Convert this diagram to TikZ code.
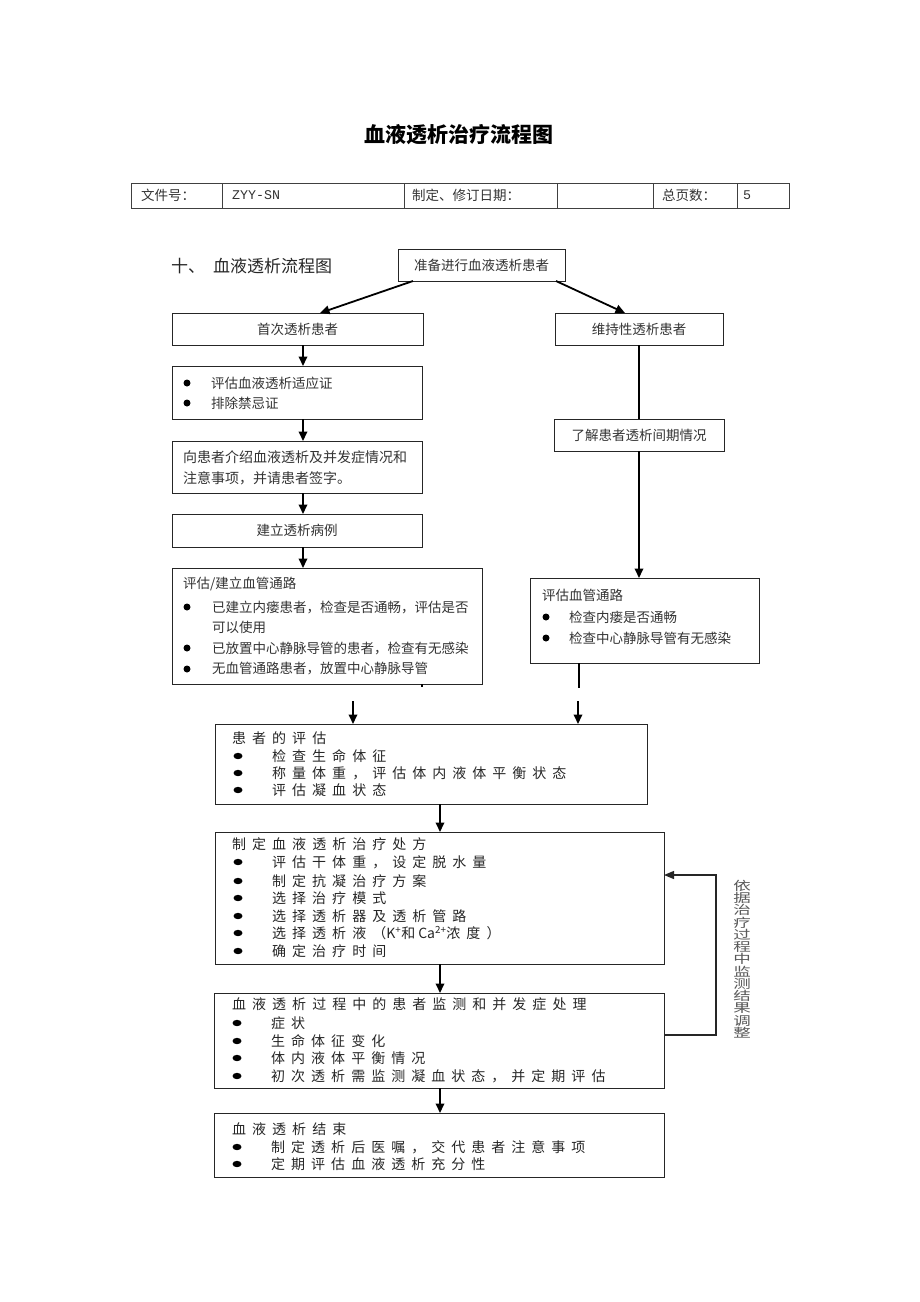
\documentclass[tikz,border=0pt]{standalone}
\usepackage{fontspec}
\setmainfont{Noto Sans CJK SC}
\newfontfamily\cjksp[LetterSpace=43]{Noto Sans CJK SC}
\newfontfamily\plainf{Noto Sans CJK SC}
\newfontfamily\mono{Liberation Mono}
\usetikzlibrary{arrows.meta,calc}
\begin{document}
\begin{tikzpicture}[x=1pt,y=-1pt,
  box/.style={draw=black!85,line width=0.9pt,rectangle,inner sep=0pt,outer sep=0pt,anchor=north west},
  cell/.style={draw=black!75,line width=0.9pt,rectangle,inner sep=0pt,outer sep=0pt,anchor=north west,minimum height=25pt},
  txt/.style={anchor=west,inner sep=0pt,font=\fontsize{13.5}{16}\selectfont,text=black!80},
  ctxt/.style={inner sep=0pt,font=\fontsize{13.5}{16}\selectfont,text=black!80},
  stxt/.style={anchor=west,inner sep=0pt,font=\cjksp\fontsize{14}{16}\selectfont,text=black!85},
  arr/.style={line width=1.8pt,-{Triangle[length=9.5pt,width=8.5pt]}},
  plain/.style={line width=1.8pt},
  fb/.style={line width=1.3pt,draw=black!85},
  dot/.style={fill=black},
]
\useasboundingbox[fill=white] (0,0) rectangle (920,1302);

% title
\node[font=\bfseries\fontsize{21}{24}\selectfont] (title) at (459,135) {血液透析治疗流程图};

% header table
\node[cell,minimum width=91pt]  (c1) at (131,183) {};
\node[cell,minimum width=182pt] (c2) at (222,183) {};
\node[cell,minimum width=153pt] (c3) at (404,183) {};
\node[cell,minimum width=96pt]  (c4) at (557,183) {};
\node[cell,minimum width=84pt]  (c5) at (653,183) {};
\node[cell,minimum width=52pt]  (c6) at (737,183) {};
\node[txt] (t1) at ($(c1.west)+(10,0)$) {文件号：};
\node[txt,font=\mono\fontsize{13.3}{16}\selectfont] (t2) at ($(c2.west)+(10,0)$) {ZYY-SN};
\node[txt] (t3) at ($(c3.west)+(8,0)$) {制定、修订日期：};
\node[txt] (t5) at ($(c5.west)+(9,0)$) {总页数：};
\node[txt,font=\mono\fontsize{13.3}{16}\selectfont] (t6) at ($(c6.west)+(6,0)$) {5};

% heading
\node[txt,font=\fontsize{17}{20}\selectfont,text=black!85] (head) at (171,266) {十、\hspace{8pt}血液透析流程图};

% top
\node[box,minimum width=167pt,minimum height=32pt] (A) at (398,249) {};
\node[ctxt] (At) at (A.center) {准备进行血液透析患者};
\node[box,minimum width=251pt,minimum height=32pt] (B) at (172,313) {};
\node[ctxt] (Bt) at (B.center) {首次透析患者};
\node[box,minimum width=168pt,minimum height=32pt] (C) at (555,313) {};
\node[ctxt] (Ct) at (C.center) {维持性透析患者};

% left column
\node[box,minimum width=250pt,minimum height=53pt] (D) at (172,366) {};
\fill[dot] (187,383) circle (3.5pt);
\fill[dot] (187,403) circle (3.5pt);
\node[txt] (D1) at (211,383) {评估血液透析适应证};
\node[txt] (D2) at (211,403) {排除禁忌证};

\node[box,minimum width=250pt,minimum height=52pt] (E) at (172,441) {};
\node[txt,font=\fontsize{14}{16}\selectfont] (E1) at (183,457) {向患者介绍血液透析及并发症情况和};
\node[txt,font=\fontsize{14}{16}\selectfont] (E2) at (183,478) {注意事项，并请患者签字。};

\node[box,minimum width=250pt,minimum height=33pt] (F) at (172,514) {};
\node[ctxt] (Ft) at (F.center) {建立透析病例};

\node[box,minimum width=310pt,minimum height=116pt] (G) at (172,568) {};
\node[txt] (G0) at (183,584) {评估/建立血管通路};
\fill[dot] (187,607) circle (3.5pt);
\fill[dot] (187,648) circle (3.5pt);
\fill[dot] (187,669) circle (3.5pt);
\node[txt] (G1) at (212,607) {已建立内瘘患者，检查是否通畅，评估是否};
\node[txt] (G2) at (212,627) {可以使用};
\node[txt] (G3) at (212,648) {已放置中心静脉导管的患者，检查有无感染};
\node[txt] (G4) at (212,669) {无血管通路患者，放置中心静脉导管};

% right column
\node[box,minimum width=170pt,minimum height=32pt] (H) at (554,419) {};
\node[ctxt] (Ht) at (H.center) {了解患者透析间期情况};

\node[box,minimum width=229pt,minimum height=85pt] (I) at (530,578) {};
\node[txt] (I0) at (542,595) {评估血管通路};
\fill[dot] (546,617) circle (3.5pt);
\fill[dot] (546,638) circle (3.5pt);
\node[txt] (I1) at (569,617) {检查内瘘是否通畅};
\node[txt] (I2) at (569,638) {检查中心静脉导管有无感染};

% lower boxes
\node[box,minimum width=432pt,minimum height=80pt] (J) at (215,724) {};
\node[stxt] (J0) at (232,738) {患者的评估};
\foreach \y in {756,773,790} \fill[dot] (238,\y) ellipse (4.5pt and 3.2pt);
\node[stxt] (J1) at (272,756) {检查生命体征};
\node[stxt] (J2) at (272,773) {称量体重，评估体内液体平衡状态};
\node[stxt] (J3) at (272,790) {评估凝血状态};

\node[box,minimum width=449pt,minimum height=132pt] (K) at (215,832) {};
\node[stxt] (K0) at (232,844) {制定血液透析治疗处方};
\foreach \y in {862,881,898,916,933,951} \fill[dot] (238,\y) ellipse (4.5pt and 3.2pt);
\node[stxt] (K1) at (272,862) {评估干体重，设定脱水量};
\node[stxt] (K2) at (272,881) {制定抗凝治疗方案};
\node[stxt] (K3) at (272,898) {选择治疗模式};
\node[stxt] (K4) at (272,916) {选择透析器及透析管路};
\node[stxt] (K5) at (272,933) {选择透析液（{\plainf K\textsuperscript{+}}和\hspace{3pt}{\plainf Ca\textsuperscript{2+}}浓度）};
\node[stxt] (K6) at (272,951) {确定治疗时间};

\node[box,minimum width=450pt,minimum height=95pt] (L) at (214,993) {};
\node[stxt] (L0) at (232,1004) {血液透析过程中的患者监测和并发症处理};
\foreach \y in {1023,1041,1058,1076} \fill[dot] (237,\y) ellipse (4.5pt and 3.2pt);
\node[stxt] (L1) at (271,1023) {症状};
\node[stxt] (L2) at (271,1041) {生命体征变化};
\node[stxt] (L3) at (271,1058) {体内液体平衡情况};
\node[stxt] (L4) at (271,1076) {初次透析需监测凝血状态，并定期评估};

\node[box,minimum width=450pt,minimum height=64pt] (M) at (214,1113) {};
\node[stxt] (M0) at (232,1129) {血液透析结束};
\foreach \y in {1147,1164} \fill[dot] (237,\y) ellipse (4.5pt and 3.2pt);
\node[stxt] (M1) at (271,1147) {制定透析后医嘱，交代患者注意事项};
\node[stxt] (M2) at (271,1164) {定期评估血液透析充分性};

% side note
\begin{scope}[shift={(742,959)},yscale=0.7]
\node[transform shape,align=center,inner sep=0pt,font=\fontsize{17.5}{17.5}\selectfont,text=black!65] (note) at (0,0)
  {依\\据\\治\\疗\\过\\程\\中\\监\\测\\结\\果\\调\\整};
\end{scope}

% connectors
\coordinate (lx) at (303,0);
\coordinate (rx) at (639,0);
\draw[arr] ($(A.south west)+(15,0)$) -- ($(B.north west)+(148,0)$);
\draw[arr] ($(A.south east)+(-9,0)$) -- ($(C.north west)+(70,0)$);
\draw[arr] (lx |- B.south) -- (lx |- D.north);
\draw[arr] (lx |- D.south) -- (lx |- E.north);
\draw[arr] (lx |- E.south) -- (lx |- F.north);
\draw[arr] (lx |- F.south) -- (lx |- G.north);
\draw[plain] (rx |- C.south) -- (rx |- H.north);
\draw[arr] (rx |- H.south) -- (rx |- I.north);

\coordinate (gs) at (422,687);
\draw[line width=1.2pt] (gs |- G.south) -- (gs);
\coordinate (is) at (579,688);
\draw[line width=1.8pt] (is |- I.south) -- (is);
\coordinate (la) at (353,701);
\coordinate (ra) at (578,701);
\draw[arr] (la) -- (la |- J.north);
\draw[arr] (ra) -- (ra |- J.north);

\coordinate (cx) at (440,0);
\draw[arr] (cx |- J.south) -- (cx |- K.north);
\draw[arr] (cx |- K.south) -- (cx |- L.north);
\draw[arr] (cx |- L.south) -- (cx |- M.north);

\coordinate (fb1) at (716,1035);
\coordinate (fb2) at (716,875);
\draw[fb,-{Triangle[length=10pt,width=8pt]}] (L.east |- fb1) -- (fb1) -- (fb2) -- (K.east |- fb2);
\end{tikzpicture}
\end{document}
